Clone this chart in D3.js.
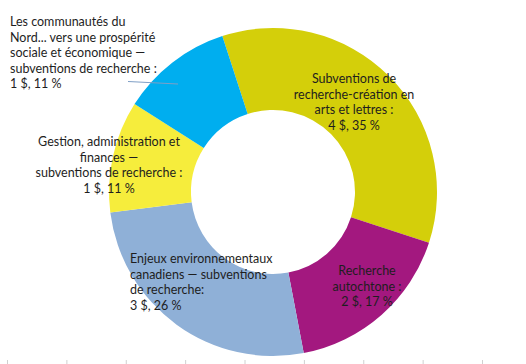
<!DOCTYPE html>
<html>
<head>
<meta charset="utf-8">
<script src="https://cdn.jsdelivr.net/npm/d3@7"></script>
<style>
  body { margin: 0; background: #fff; }
  text { font-family: Lato, "Liberation Sans", sans-serif; font-size: 12.5px; fill: #1e1e1e; }
</style>
</head>
<body>
<div id="chart"></div>
<script>
// donut slices, clockwise from the olive one
const categories = [
  'Subventions de recherche-création en arts et lettres',
  'Recherche autochtone',
  'Enjeux environnementaux canadiens — subventions de recherche',
  'Gestion, administration et finances — subventions de recherche',
  'Les communautés du Nord... vers une prospérité sociale et économique — subventions de recherche'
];
const amounts = [4, 2, 3, 1, 1];
const percents = [35, 17, 26, 11, 11];
const labelLines = [
  ['Subventions de', 'recherche-création en', 'arts et lettres :', '4 $, 35 %'],
  ['Recherche', 'autochtone :', '2 $, 17 %'],
  ['Enjeux environnementaux', 'canadiens — subventions', 'de recherche:', '3 $, 26 %'],
  ['Gestion, administration et', 'finances —', 'subventions de recherche :', '1 $, 11 %'],
  ['Les communautés du', 'Nord... vers une prospérité', 'sociale et économique —', 'subventions de recherche :', '1 $, 11 %']
];
const tickValues = [0, 1, 2, 3, 4, 5, 6, 7, 8];

const colors = ['#d4cf0a', '#a3187f', '#8fb0d7', '#f6ed3c', '#00aeef'];
// label placement: x, first baseline, anchor
const labelPos = [
  [354, 83, 'middle'],
  [367, 275, 'middle'],
  [130, 263, 'start'],
  [109, 146, 'middle'],
  [10, 26, 'start']
];

const width = 526, height = 364;
const cx = 273, cy = 192, rOut = 164, rIn = 82;

const svg = d3.select('#chart').append('svg').attr('width', width).attr('height', height);

const start = -18 * Math.PI / 180;
const pie = d3.pie().sort(null).value(d => d).startAngle(start).endAngle(start + 2 * Math.PI);
const arc = d3.arc().innerRadius(rIn).outerRadius(rOut);

const g = svg.append('g').attr('transform', `translate(${cx},${cy})`);
g.selectAll('path')
  .data(pie(percents))
  .enter().append('path')
  .attr('d', arc)
  .attr('fill', (d, i) => colors[i]);

// leader line for the Nord label
svg.append('line')
  .attr('x1', 128).attr('y1', 81.5).attr('x2', 178).attr('y2', 84)
  .attr('stroke', '#7f9fc6').attr('stroke-width', 1);

labelLines.forEach((lines, i) => {
  const [x, y, anchor] = labelPos[i];
  const t = svg.append('text').attr('x', x).attr('y', y).attr('text-anchor', anchor);
  lines.forEach((s, j) => {
    t.append('tspan').attr('x', x).attr('dy', j === 0 ? 0 : 15.5).text(s);
  });
});

// faint cut-off axis ticks at the bottom
const sx = d3.scaleLinear().domain([0, 8]).range([7, 482]);
const ax = svg.append('g').attr('transform', `translate(0,${height - 4})`)
  .call(d3.axisBottom(sx).tickValues(tickValues).tickSize(5).tickFormat(''));
ax.select('.domain').remove();
ax.selectAll('line').attr('stroke', '#d0d0d0');
</script>
</body>
</html>
